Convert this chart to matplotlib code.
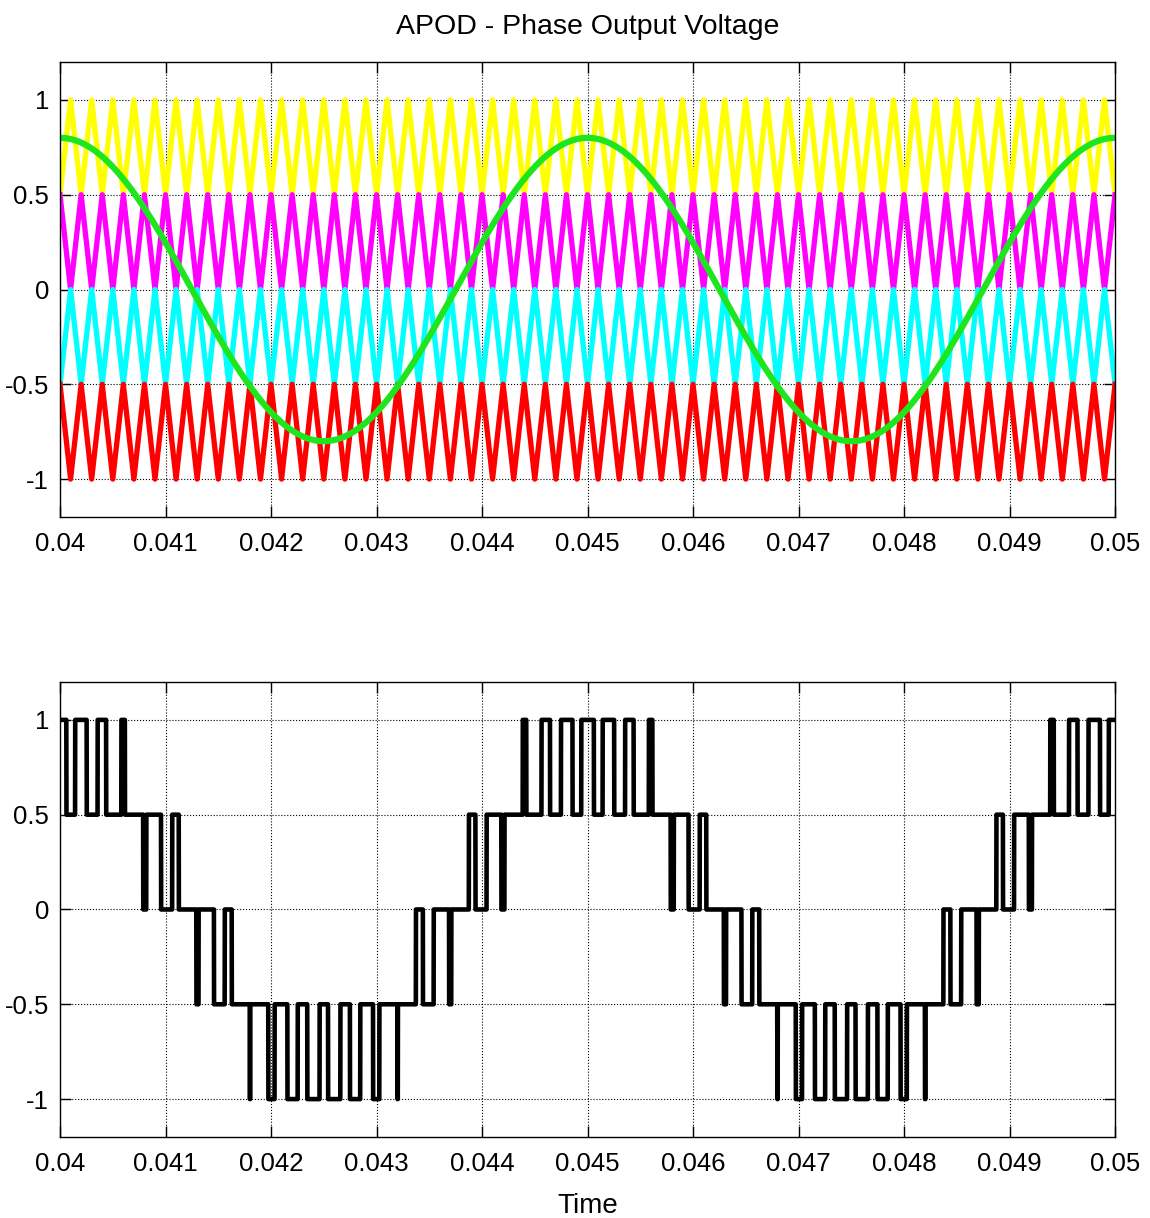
import numpy as np
import matplotlib
matplotlib.use('Agg')
import matplotlib.pyplot as plt

# values
t_start, t_end = 0.04, 0.05
carrier_period = 0.0002          # 50 triangles across 0.01 s
ref_period = 0.005               # sine peaks at 0.04, 0.045, 0.05
ref_amp = 0.8
carrier_low = [0.5, 0.0, -0.5, -1.0]
carrier_high = [1.0, 0.5, 0.0, -0.5]
carrier_starts_low = [True, False, True, False]   # APOD: neighbours in opposition
carrier_colors = ['#ffff00', '#ff00ff', '#00ffff', '#ff0000']
xticks = [0.04, 0.041, 0.042, 0.043, 0.044, 0.045, 0.046, 0.047, 0.048, 0.049, 0.05]
xticklabels = ['0.04', '0.041', '0.042', '0.043', '0.044', '0.045', '0.046',
               '0.047', '0.048', '0.049', '0.05']
yticks = [-1, -0.5, 0, 0.5, 1]
yticklabels = ['-1', '-0.5', '0', '0.5', '1']

plt.rcParams['font.family'] = ['Liberation Sans', 'DejaVu Sans']

t = np.linspace(t_start, t_end, 20001)
ref = ref_amp * np.cos(2 * np.pi * (t - t_start) / ref_period)

# triangle carriers from their vertices
n_half = int(round((t_end - t_start) / (carrier_period / 2)))
vert_t = t_start + np.arange(n_half + 1) * carrier_period / 2
carriers = []
for lo, hi, starts_low in zip(carrier_low, carrier_high, carrier_starts_low):
    pattern = np.array([lo, hi] if starts_low else [hi, lo])
    vert_v = np.resize(pattern, n_half + 1)
    carriers.append((vert_t, vert_v))

# multilevel output: -1 + 0.5 per carrier the reference is above
level = np.full_like(t, -1.0)
for vt, vv in carriers:
    level += 0.5 * (ref >= np.interp(t, vt, vv))

fig = plt.figure(figsize=(11.5, 12.18), dpi=100)
ax1 = fig.add_axes([0.0522, 0.5755, 0.9174, 0.3736])
ax2 = fig.add_axes([0.0522, 0.0665, 0.9174, 0.3736])

for (vt, vv), c in zip(carriers, carrier_colors):
    ax1.plot(vt, vv, color=c, lw=3.8)
ax1.plot(t, ref, color='#1ee61e', lw=4.5)
ax1.set_title('APOD - Phase Output Voltage', fontsize=20.5, pad=20)

ax2.plot(t, level, color='black', lw=3.3)
ax2.set_xlabel('Time', fontsize=20, labelpad=12)

for ax in (ax1, ax2):
    ax.set_xlim(t_start, t_end)
    ax.set_ylim(-1.2, 1.2)
    ax.set_xticks(xticks)
    ax.set_xticklabels(xticklabels)
    ax.set_yticks(yticks)
    ax.set_yticklabels(yticklabels)
    ax.tick_params(direction='in', top=True, right=True, labelsize=18.5,
                   length=8, width=1)
    ax.tick_params(axis='x', pad=11)
    ax.tick_params(axis='y', pad=8)
    ax.grid(True, linestyle=':', color='black', lw=0.8)
    for s in ax.spines.values():
        s.set_linewidth(1)

fig.savefig('out.png', dpi=100)
